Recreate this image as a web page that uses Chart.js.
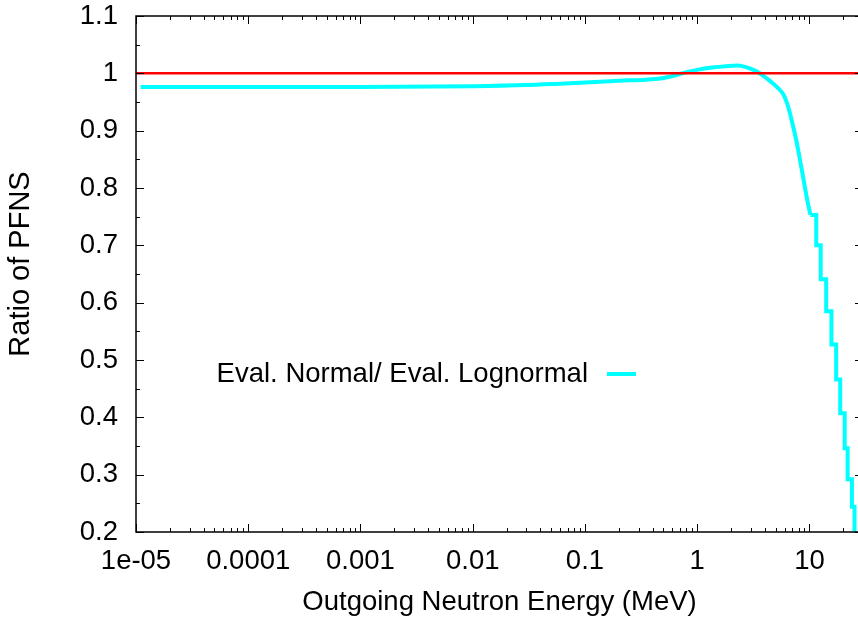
<!DOCTYPE html>
<html><head><meta charset="utf-8">
<script src="https://cdn.jsdelivr.net/npm/chart.js@4"></script>
<style>
html,body{margin:0;padding:0;overflow:hidden;background:#fff;width:858px;height:619px}
#wrap{position:absolute;left:0;top:0;width:880px;height:619px}
</style>
</head><body><div id="wrap"><canvas id="c" width="880" height="619"></canvas></div>
<script>
// ---- data ----
const energies = [1.1e-5, 1e-4, 1e-3, 0.01, 0.03, 0.06, 0.1, 0.2, 0.35, 0.47, 0.55, 0.65, 0.8, 1.0, 1.35, 1.8, 2.3, 2.9, 3.4, 3.8, 4.5, 5.2, 5.9, 6.5, 7.2, 7.6, 8.4, 9.5, 10.2];
const ratios   = [0.976, 0.976, 0.976, 0.9775, 0.9795, 0.982, 0.984, 0.987, 0.989, 0.991, 0.9935, 0.997, 1.002, 1.006, 1.010, 1.0125, 1.0135, 1.009, 1.003, 0.997, 0.986, 0.975, 0.962, 0.94, 0.905, 0.885, 0.84, 0.782, 0.753];
const stepEnergies = [10.2, 11.5, 12.6, 14.1, 15.7, 17.3, 18.8, 20.6, 21.9, 23.9, 25.2, 30];
const stepRatios   = [0.753, 0.70, 0.641, 0.585, 0.527, 0.466, 0.407, 0.346, 0.292, 0.244, 0.15, 0.15];
const refEnergies = [1e-5, 30];
const refRatios = [1, 1];
const xTickValues = [1e-5, 1e-4, 1e-3, 0.01, 0.1, 1, 10];
const xTickLabels = ['1e-05', '0.0001', '0.001', '0.01', '0.1', '1', '10'];
const yTickValues = [0.2, 0.3, 0.4, 0.5, 0.6, 0.7, 0.8, 0.9, 1.0, 1.1];
const yTickLabels = ['0.2', '0.3', '0.4', '0.5', '0.6', '0.7', '0.8', '0.9', '1', '1.1'];
const seriesLabel = 'Eval. Normal/ Eval. Lognormal';
const xTitle = 'Outgoing Neutron Energy (MeV)';
const yTitle = 'Ratio of PFNS';

const FONT = 'Liberation Sans, Arial, Helvetica, sans-serif';
const FS = 27.5;

const zip = (xs, ys) => xs.map((x, i) => ({x, y: ys[i]}));

const frame = {
  id: 'frame',
  afterDatasetsDraw(chart) {
    const {ctx, chartArea: a, scales: {x, y}} = chart;
    ctx.save();
    ctx.strokeStyle = '#000';
    ctx.lineWidth = 1.5;
    ctx.beginPath();
    ctx.moveTo(a.right, a.top); ctx.lineTo(a.left, a.top); ctx.lineTo(a.left, a.bottom); ctx.lineTo(a.right, a.bottom);
    ctx.stroke();
    ctx.lineWidth = 1;
    ctx.beginPath();
    for (let d = -5; d <= 1; d++) {
      for (let m = 1; m <= 9; m++) {
        const v = m * Math.pow(10, d);
        if (v < x.min || v > x.max) continue;
        const px = Math.round(x.getPixelForValue(v)) + 0.5;
        const len = m === 1 ? 8 : 4;
        ctx.moveTo(px, a.bottom); ctx.lineTo(px, a.bottom - len);
        ctx.moveTo(px, a.top); ctx.lineTo(px, a.top + len);
      }
    }
    for (let i = 0; i < yTickValues.length; i++) {
      const v = yTickValues[i];
      const py = Math.round(y.getPixelForValue(v)) + 0.5;
      ctx.moveTo(a.left, py); ctx.lineTo(a.left + 8, py);
      ctx.moveTo(a.right, py); ctx.lineTo(a.right - 8, py);
      if (i < yTickValues.length - 1) {
        const pm = Math.round(y.getPixelForValue((v + yTickValues[i + 1]) / 2)) + 0.5;
        ctx.moveTo(a.left, pm); ctx.lineTo(a.left + 4, pm);
        ctx.moveTo(a.right, pm); ctx.lineTo(a.right - 4, pm);
      }
    }
    ctx.stroke();
    // key (gnuplot style: text then line sample)
    const ky = 374;
    ctx.font = FS + 'px ' + FONT;
    ctx.fillStyle = '#000';
    ctx.textAlign = 'right';
    ctx.textBaseline = 'middle';
    ctx.fillText(seriesLabel, 588, ky);
    ctx.strokeStyle = '#00ffff';
    ctx.lineWidth = 4;
    ctx.beginPath(); ctx.moveTo(607, ky); ctx.lineTo(636, ky); ctx.stroke();
    // y axis label
    ctx.translate(21, 264);
    ctx.rotate(-Math.PI / 2);
    ctx.textAlign = 'center';
    ctx.font = '29px ' + FONT;
    ctx.fillText(yTitle, 0, 0);
    ctx.restore();
  }
};

new Chart(document.getElementById('c'), {
  type: 'line',
  data: {
    datasets: [
      {label: 'ref', data: zip(refEnergies, refRatios), borderColor: '#ff0000', borderWidth: 2.5, pointRadius: 0, tension: 0},
      {label: seriesLabel, data: zip(energies, ratios), borderColor: '#00ffff', borderWidth: 4, pointRadius: 0, cubicInterpolationMode: 'monotone'},
      {label: 'steps', data: zip(stepEnergies, stepRatios), borderColor: '#00ffff', borderWidth: 4, pointRadius: 0, stepped: 'before'}
    ]
  },
  options: {
    responsive: false,
    animation: false,
    events: [],
    layout: {padding: {top: 16, right: 17, left: 0, bottom: 0}},
    plugins: {legend: {display: false}, tooltip: {enabled: false}},
    scales: {
      x: {
        type: 'logarithmic', min: 1e-5, max: 30,
        grid: {display: false, drawTicks: false},
        border: {display: false},
        afterBuildTicks: s => { s.ticks = xTickValues.map(v => ({value: v})); },
        afterFit: s => { s.height = 87; s.paddingLeft = 0; s.paddingRight = 0; },
        ticks: {autoSkip: false, maxRotation: 0, padding: 13, color: '#000', font: {family: FONT, size: FS},
          callback: (v, i) => xTickLabels[i]},
        title: {display: true, text: xTitle, color: '#000', font: {family: FONT, size: FS}, padding: {top: 0, bottom: 0}}
      },
      y: {
        type: 'linear', min: 0.2, max: 1.1,
        grid: {display: false, drawTicks: false},
        border: {display: false},
        afterBuildTicks: s => { s.ticks = yTickValues.map(v => ({value: v})); },
        afterFit: s => { s.width = 136; s.paddingTop = 0; s.paddingBottom = 0; },
        ticks: {autoSkip: false, padding: 18, color: '#000', font: {family: FONT, size: FS},
          callback: (v, i) => yTickLabels[i]},
        title: {display: false}
      }
    }
  },
  plugins: [frame]
});
</script>
</body></html>
